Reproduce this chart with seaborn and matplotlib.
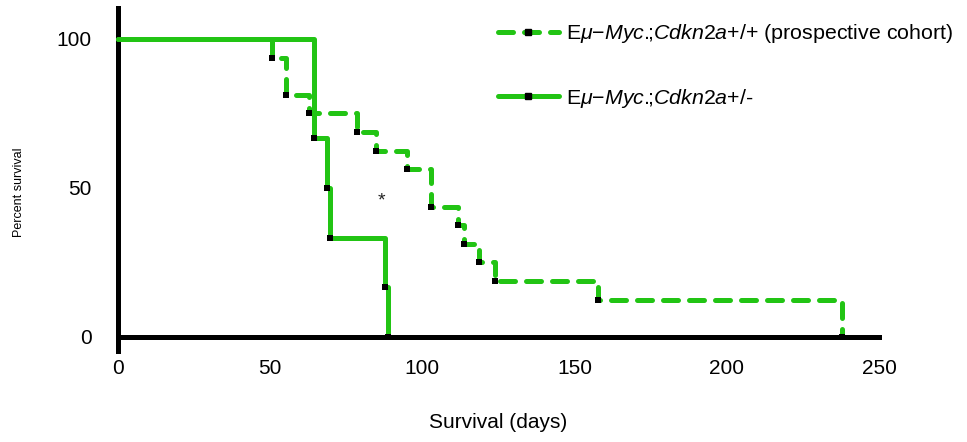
import matplotlib
matplotlib.use('Agg')
import matplotlib.pyplot as plt
import seaborn as sns
import pandas as pd
from matplotlib.lines import Line2D

# ---- data ----
cohort_days = [0, 50.6, 55.3, 62.8, 78.5, 84.8, 95.0, 102.8, 111.7, 113.7, 118.6, 123.8, 157.7, 237.8]
cohort_surv = [100, 93.75, 81.25, 75.0, 68.75, 62.5, 56.25, 43.75, 37.5, 31.25, 25.0, 18.75, 12.5, 0]
het_days = [0, 64.5, 68.7, 69.7, 87.7, 88.7]
het_surv = [100, 66.67, 50.0, 33.33, 16.67, 0]
x_ticks = [0, 50, 100, 150, 200, 250]
y_ticks = [0, 50, 100]
cohort_label = r'E$\mathit{\mu}$−$\mathit{Myc.}\!\!$;$\mathit{Cdkn2a}$+/+ (prospective cohort)'
het_label = r'E$\mathit{\mu}$−$\mathit{Myc.}\!\!$;$\mathit{Cdkn2a}$+/-'
x_label = 'Survival (days)'
y_label = 'Percent survival'
star_pos = (86.4, 45.6)

sns.set_theme(style='white')
plt.rcParams['font.family'] = ['Liberation Sans', 'DejaVu Sans']
plt.rcParams['mathtext.fontset'] = 'custom'
plt.rcParams['mathtext.rm'] = 'Liberation Sans'
plt.rcParams['mathtext.it'] = 'Liberation Sans:italic'
plt.rcParams['text.color'] = 'black'
plt.rcParams['axes.labelcolor'] = 'black'

GREEN = '#22C414'
LW = 3.6
DASH = (0, (3.0, 2.2))

W, H = 967, 442
fig = plt.figure(figsize=(W / 100, H / 100), dpi=100)
ax = fig.add_axes([118 / W, 1 - 351 / H, (879 - 118) / W, (351 - 8) / H])

df_c = pd.DataFrame({'day': cohort_days, 'surv': cohort_surv})
df_h = pd.DataFrame({'day': het_days, 'surv': het_surv})

sns.lineplot(data=df_c, x='day', y='surv', ax=ax, color=GREEN, lw=LW,
             drawstyle='steps-post', linestyle=DASH, dash_capstyle='round',
             estimator=None, sort=False, clip_on=False, zorder=3)
sns.lineplot(data=df_h, x='day', y='surv', ax=ax, color=GREEN, lw=LW,
             drawstyle='steps-post', estimator=None, sort=False,
             clip_on=False, zorder=3)

sns.scatterplot(data=df_c.iloc[1:], x='day', y='surv', ax=ax, marker='s',
                color='black', s=20, linewidth=0, clip_on=False, zorder=5)
sns.scatterplot(data=df_h.iloc[1:], x='day', y='surv', ax=ax, marker='s',
                color='black', s=20, linewidth=0, clip_on=False, zorder=5)

ax.text(star_pos[0], star_pos[1], '*', ha='center', va='center', fontsize=14, color='#222222')

ax.set_xlim(0, 250)
ax.set_ylim(-4.7, 110.4)
ax.set_xticks(x_ticks)
ax.set_yticks(y_ticks)
for s in ['top', 'right']:
    ax.spines[s].set_visible(False)
ax.spines['bottom'].set_position(('data', 0))
for s in ['left', 'bottom']:
    ax.spines[s].set_linewidth(3.6)
    ax.spines[s].set_color('black')
ax.tick_params(axis='x', direction='out', length=10, width=3, labelsize=15, pad=6,
               colors='black', labelcolor='black')
ax.tick_params(axis='y', direction='out', length=13, width=4, labelsize=15, pad=6,
               colors='black', labelcolor='black')
ax.set_xlabel(x_label, fontsize=15, labelpad=25, color='black')
ax.set_ylabel(y_label, fontsize=9, color='black')
ax.yaxis.set_label_coords(-93 / (879 - 118), (351 - 192) / (351 - 8))

handles = [
    Line2D([0], [0], color=GREEN, lw=LW, linestyle=DASH, dash_capstyle='round',
           marker='s', markersize=4.5, markerfacecolor='black', markeredgecolor='black'),
    Line2D([0], [0], color=GREEN, lw=LW, solid_capstyle='round',
           marker='s', markersize=4.5, markerfacecolor='black', markeredgecolor='black'),
]
leg = fig.legend(handles, [cohort_label, het_label], loc='upper left',
                 bbox_to_anchor=(498 / W, 1 - 22 / H), frameon=False, fontsize=15.4,
                 handlelength=2.85, handletextpad=0.35, labelspacing=1.95,
                 borderpad=0, borderaxespad=0, numpoints=1)
for t in leg.get_texts():
    t.set_color('black')

fig.savefig('out.png', dpi=100)
